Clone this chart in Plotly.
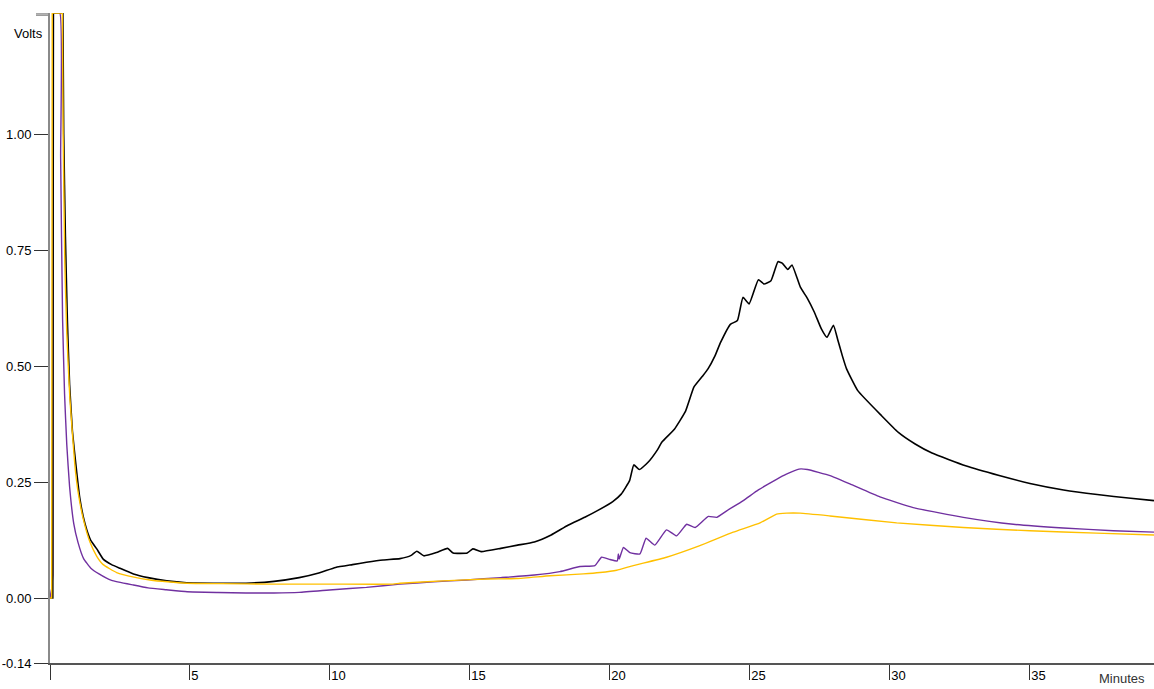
import plotly.graph_objects as go

# Detector traces: time in minutes, signal in volts
black_t = [0.0, 0.10, 0.12, 0.46, 0.49, 0.55, 0.62, 0.70, 0.80, 0.92, 1.07, 1.25, 1.45, 1.67, 1.90,
           2.20, 2.50, 2.98, 3.50, 4.17, 4.88, 6.07, 7.0, 8.0, 8.9, 9.6, 10.2, 10.8, 11.3, 11.9,
           12.5, 12.9, 13.1, 13.35, 13.8, 14.2, 14.4, 14.9, 15.1, 15.4, 16.1, 16.7, 17.3, 17.9,
           18.5, 19.1, 19.6, 20.1, 20.4, 20.7, 20.85, 21.05, 21.35, 21.7, 21.85, 22.3, 22.7, 23.0,
           23.3, 23.5, 23.75, 23.95, 24.3, 24.55, 24.75, 24.97, 25.3, 25.5, 25.75, 26.0, 26.15,
           26.35, 26.5, 26.8, 27.05, 27.3, 27.55, 27.75, 27.98, 28.13, 28.3, 28.45, 28.85, 29.7,
           30.3, 30.9, 31.5, 32.7, 33.9, 35.0, 36.2, 37.4, 38.6, 39.43]
black_v = [0.0, 0.0, 1.261, 1.261, 1.0, 0.78, 0.60, 0.46, 0.36, 0.29, 0.213, 0.16, 0.125, 0.106, 0.084,
           0.072, 0.064, 0.052, 0.044, 0.037, 0.033, 0.032, 0.032, 0.036, 0.044, 0.054, 0.066, 0.072,
           0.077, 0.082, 0.085, 0.092, 0.101, 0.091, 0.098, 0.107, 0.097, 0.097, 0.106, 0.100, 0.107,
           0.114, 0.121, 0.136, 0.157, 0.174, 0.190, 0.208, 0.224, 0.253, 0.287, 0.277, 0.292, 0.320,
           0.336, 0.364, 0.403, 0.455, 0.478, 0.494, 0.522, 0.551, 0.590, 0.598, 0.648, 0.634, 0.686,
           0.677, 0.684, 0.725, 0.722, 0.708, 0.718, 0.670, 0.646, 0.616, 0.580, 0.562, 0.588, 0.558,
           0.522, 0.494, 0.447, 0.393, 0.357, 0.332, 0.3125, 0.285, 0.264, 0.247, 0.233, 0.223,
           0.215, 0.210]

purple_t = [0.0, 0.06, 0.10, 0.12, 0.35, 0.38, 0.45, 0.52, 0.60, 0.70, 0.85, 1.0, 1.2, 1.45, 1.75,
            2.2, 2.98, 3.5, 4.15, 4.9, 6.0, 7.0, 8.0, 8.9, 10.1, 11.3, 12.5, 13.7, 14.9, 16.1, 17.3,
            18.21, 18.93, 19.46, 19.7, 20.0, 20.26, 20.3, 20.33, 20.48, 20.71, 21.07, 21.29, 21.6,
            22.02, 22.38, 22.74, 23.04, 23.51, 23.81, 24.17, 24.76, 25.3, 25.95, 26.3, 26.75, 27.05,
            27.86, 28.57, 29.64, 30.83, 32.62, 34.4, 36.19, 37.98, 39.43]
purple_v = [0.0, 0.02, 0.05, 1.261, 1.261, 0.95, 0.60, 0.44, 0.33, 0.24, 0.16, 0.12, 0.085, 0.065,
            0.052, 0.038, 0.028, 0.022, 0.018, 0.0136, 0.012, 0.011, 0.011, 0.0123, 0.018, 0.023,
            0.030, 0.035, 0.039, 0.044, 0.0496, 0.057, 0.068, 0.070, 0.088, 0.083, 0.080, 0.095,
            0.084, 0.109, 0.098, 0.095, 0.129, 0.114, 0.147, 0.134, 0.159, 0.152, 0.176, 0.174,
            0.188, 0.210, 0.233, 0.256, 0.267, 0.278, 0.277, 0.264, 0.246, 0.218, 0.195, 0.174,
            0.159, 0.151, 0.145, 0.142]

yellow_t = [0.0, 0.06, 0.08, 0.44, 0.47, 0.53, 0.60, 0.71, 0.89, 1.0, 1.19, 1.43, 1.67, 1.9, 2.38,
            3.0, 3.57, 4.2, 4.88, 6.07, 8.0, 10.0, 12.25, 12.5, 14.05, 15.6, 16.67, 17.86, 19.05,
            19.64, 20.24, 20.83, 22.02, 23.21, 24.4, 25.36, 25.95, 26.31, 26.79, 27.86, 30.24,
            32.62, 35.0, 37.38, 39.43]
yellow_v = [0.0, 0.0, 1.261, 1.261, 1.0, 0.72, 0.57, 0.43, 0.285, 0.23, 0.17, 0.12, 0.09, 0.072,
            0.055, 0.045, 0.039, 0.035, 0.032, 0.031, 0.030, 0.030, 0.030, 0.032, 0.037, 0.041,
            0.042, 0.048, 0.052, 0.055, 0.060, 0.070, 0.088, 0.113, 0.142, 0.162, 0.181, 0.183,
            0.183, 0.177, 0.162, 0.152, 0.145, 0.140, 0.136]

y_ticks = [1.00, 0.75, 0.50, 0.25, 0.00, -0.14]
y_tick_text = ["1.00", "0.75", "0.50", "0.25", "0.00", "-0.14"]
x_ticks = [0, 5, 10, 15, 20, 25, 30, 35]
x_tick_text = ["", "5", "10", "15", "20", "25", "30", "35"]

Y_MIN, Y_MAX = -0.14, 1.261
X_MIN, X_MAX = 0.0, 39.43

# injection spike (first 4 points: baseline, rise, saturated plateau) drawn straight,
# the rest of each trace smoothed
SPIKE_N = 4

fig = go.Figure()


def add_series(t, v, color, width):
    fig.add_trace(go.Scatter(x=t[:SPIKE_N], y=v[:SPIKE_N], mode="lines",
                             line=dict(color=color, width=width), showlegend=False))
    fig.add_trace(go.Scatter(x=t[SPIKE_N - 1:], y=v[SPIKE_N - 1:], mode="lines",
                             line=dict(color=color, width=width, shape="spline", smoothing=0.4),
                             showlegend=False))


add_series(purple_t, purple_v, "#7030A0", 1.4)
add_series(black_t, black_v, "#000000", 1.6)
add_series(yellow_t, yellow_v, "#FFC000", 1.4)

font = dict(family="Liberation Sans, Arial, sans-serif", size=13, color="#000000")

fig.update_layout(
    width=1154, height=689,
    margin=dict(l=50, r=0, t=13, b=26),
    paper_bgcolor="white", plot_bgcolor="white",
    font=font,
    xaxis=dict(range=[X_MIN, X_MAX], showgrid=False, zeroline=False,
               showline=True, linecolor="#555555", linewidth=1.5,
               ticks="outside", ticklen=15, tickwidth=1, tickcolor="#333333",
               tickvals=x_ticks, ticktext=x_tick_text,
               ticklabelposition="outside right", tickfont=font),
    yaxis=dict(range=[Y_MIN, Y_MAX], showgrid=False, zeroline=False,
               showline=True, linecolor="#8a8a8a", linewidth=2,
               ticks="outside", ticklen=14, tickwidth=1, tickcolor="#333333",
               tickvals=y_ticks, ticktext=y_tick_text, tickfont=font),
    annotations=[
        dict(text="Volts", xref="paper", yref="paper", x=-5 / 1104, y=1.0 - 20 / 650,
             xanchor="right", yanchor="middle", showarrow=False, font=font),
        dict(text="Minutes", xref="paper", yref="paper", x=1.0 - 7 / 1104, y=-25 / 650,
             xanchor="right", yanchor="bottom", showarrow=False,
             font=dict(family=font["family"], size=13, color="#333333")),
    ],
    shapes=[
        dict(type="line", xref="paper", yref="y", x0=-14 / 1104, x1=0, y0=Y_MAX, y1=Y_MAX,
             line=dict(color="#8a8a8a", width=1.5)),
        dict(type="line", xref="paper", yref="y", x0=-14 / 1104, x1=0, y0=1.2565, y1=1.2565,
             line=dict(color="#8a8a8a", width=1.5)),
    ],
)

fig.write_html("out.html")
